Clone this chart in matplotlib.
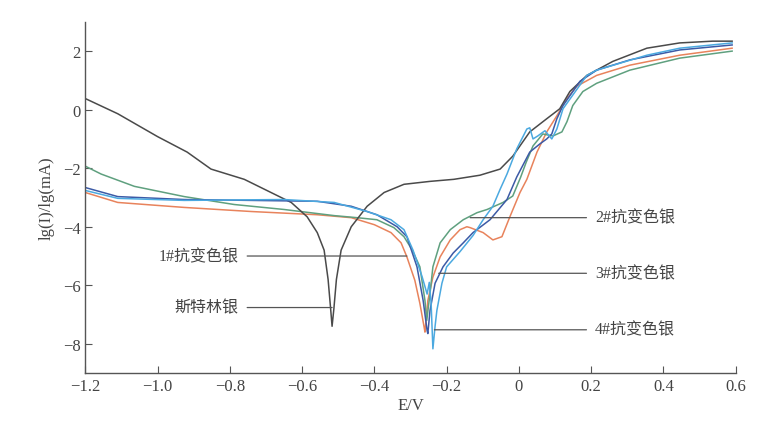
import numpy as np
import matplotlib.pyplot as plt

plt.rcParams['font.family'] = ['Liberation Serif', 'Noto Sans CJK SC']
plt.rcParams['axes.unicode_minus'] = True

# -------------------------------------------------------
# Data (E/V, lg(I))
# -------------------------------------------------------
e_sterling = [-1.2, -1.11, -1.0, -0.918, -0.852, -0.76, -0.686, -0.63, -0.586, -0.558,
              -0.539, -0.528, -0.521, -0.517, -0.512, -0.505, -0.492, -0.464, -0.42, -0.373,
              -0.318, -0.246, -0.18, -0.108, -0.052, -0.017, 0.03, 0.077, 0.113, 0.141,
              0.188, 0.26, 0.354, 0.445, 0.536, 0.59]
v_sterling = [0.38, -0.14, -0.92, -1.45, -2.03, -2.38, -2.83, -3.17, -3.66, -4.2,
              -4.8, -5.8, -6.8, -7.4, -6.8, -5.8, -4.8, -4.0, -3.3, -2.83,
              -2.55, -2.45, -2.38, -2.24, -2.03, -1.59, -0.76, -0.31, 0.03, 0.62,
              1.17, 1.65, 2.1, 2.28, 2.34, 2.34]

e_s1 = [-1.2, -1.11, -0.926, -0.74, -0.558, -0.464, -0.4, -0.354, -0.326, -0.31,
        -0.288, -0.274, -0.262, -0.26, -0.252, -0.238, -0.218, -0.19, -0.163, -0.144,
        -0.135, -0.099, -0.072, -0.047, -0.025, 0.003, 0.022, 0.05, 0.077, 0.105,
        0.133, 0.16, 0.215, 0.307, 0.445, 0.59]
v_s1 = [-2.83, -3.17, -3.34, -3.48, -3.59, -3.69, -3.93, -4.2, -4.55, -5.03,
        -5.83, -6.62, -7.45, -7.6, -6.52, -5.72, -5.03, -4.45, -4.1, -4.0,
        -4.03, -4.2, -4.45, -4.34, -3.66, -2.83, -2.38, -1.45, -0.76, -0.21,
        0.38, 0.8, 1.17, 1.52, 1.86, 2.1]

e_s2 = [-1.2, -1.156, -1.064, -0.926, -0.788, -0.65, -0.511, -0.448, -0.393, -0.346,
        -0.318, -0.295, -0.274, -0.26, -0.255, -0.246, -0.238, -0.218, -0.19, -0.154,
        -0.116, -0.088, -0.044, -0.017, 0.005, 0.02, 0.039, 0.066, 0.094, 0.119,
        0.133, 0.149, 0.177, 0.215, 0.307, 0.445, 0.59]
v_s2 = [-1.93, -2.2, -2.62, -2.97, -3.24, -3.41, -3.62, -3.69, -3.76, -4.03,
        -4.34, -4.8, -5.37, -6.52, -7.2, -6.28, -5.37, -4.55, -4.1, -3.76,
        -3.52, -3.41, -3.17, -2.95, -2.3, -1.8, -1.24, -0.83, -0.9, -0.76,
        -0.41, 0.14, 0.62, 0.9, 1.35, 1.76, 2.0]

e_s3 = [-1.2, -1.11, -0.926, -0.74, -0.558, -0.464, -0.393, -0.337, -0.31, -0.282,
        -0.265, -0.254, -0.252, -0.246, -0.232, -0.21, -0.182, -0.154, -0.127, -0.08,
        -0.033, -0.006, 0.03, 0.058, 0.077, 0.091, 0.105, 0.122, 0.169, 0.215,
        0.307, 0.445, 0.59]
v_s3 = [-2.66, -2.97, -3.07, -3.1, -3.13, -3.3, -3.59, -4.0, -4.34, -5.37,
        -6.52, -7.55, -7.65, -6.86, -5.93, -5.37, -4.9, -4.55, -4.2, -3.76,
        -3.07, -2.3, -1.45, -1.17, -1.0, -0.83, -0.31, 0.14, 0.97, 1.35,
        1.7, 2.04, 2.21]

e_s4 = [-1.2, -1.11, -0.926, -0.65, -0.511, -0.42, -0.354, -0.318, -0.293, -0.268,
        -0.254, -0.248, -0.243, -0.238, -0.232, -0.227, -0.213, -0.2, -0.163, -0.127,
        -0.099, -0.072, -0.052, -0.033, -0.006, 0.022, 0.03, 0.039, 0.052, 0.072,
        0.091, 0.105, 0.122, 0.188, 0.215, 0.354, 0.445, 0.59]
v_s4 = [-2.76, -3.03, -3.1, -3.07, -3.17, -3.48, -3.76, -4.1, -4.8, -5.7,
        -6.3, -5.9, -6.6, -8.17, -7.4, -6.86, -5.93, -5.37, -4.85, -4.3,
        -3.76, -3.3, -2.72, -2.2, -1.34, -0.66, -0.62, -1.0, -0.9, -0.72,
        -1.0, -0.66, 0.03, 1.17, 1.35, 1.86, 2.1, 2.28]

series = [
    (e_s1, v_s1, '#e8835c'),
    (e_s2, v_s2, '#5fa07f'),
    (e_sterling, v_sterling, '#4a4a4a'),
    (e_s3, v_s3, '#3c5aa6'),
    (e_s4, v_s4, '#4ba9e0'),
]

# labels: (text, point on curve, text anchor, alignment)
labels = [
    ('1#抗变色银', (-0.31, -5.0), (-0.775, -5.0), 'right'),
    ('斯特林银', (-0.517, -6.76), (-0.775, -6.76), 'right'),
    ('2#抗变色银', (-0.135, -3.69), (0.21, -3.69), 'left'),
    ('3#抗变色银', (-0.222, -5.59), (0.21, -5.59), 'left'),
    ('4#抗变色银', (-0.234, -7.52), (0.21, -7.52), 'left'),
]

fig = plt.figure(figsize=(7.68, 4.31), dpi=100)
ax = fig.add_axes([0.111, 0.132, 0.847, 0.815])

for e, v, col in series:
    ax.plot(e, v, color=col, lw=1.1)

for txt, xy, xyt, ha in labels:
    ax.annotate(txt, xy=xy, xytext=xyt, ha=ha, va='center', fontsize=11.5,
                color='#444444',
                arrowprops=dict(arrowstyle='-', color='#555555', lw=0.9,
                                shrinkA=4, shrinkB=0))

ax.set_xlim(-1.2, 0.6)
ax.set_ylim(-9, 3)
ax.set_xticks([-1.2, -1.0, -0.8, -0.6, -0.4, -0.2, 0, 0.2, 0.4, 0.6])
ax.set_xticklabels(['−1.2', '−1.0', '−0.8', '−0.6', '−0.4', '−0.2', '0', '0.2', '0.4', '0.6'])
ax.set_yticks([2, 0, -2, -4, -6, -8])
ax.set_yticklabels(['2', '0', '−2', '−4', '−6', '−8'])

for s in ['top', 'right']:
    ax.spines[s].set_visible(False)
for s in ['left', 'bottom']:
    ax.spines[s].set_color('#555555')
    ax.spines[s].set_linewidth(1.0)
ax.tick_params(direction='in', length=5, colors='#555555', labelcolor='#444444',
               labelsize=12)
ax.set_xlabel('E/V', fontsize=12, color='#444444', labelpad=2)
ax.set_ylabel('lg(I)/lg(mA)', fontsize=12, color='#444444', labelpad=6)

fig.savefig('out.png', dpi=100)
